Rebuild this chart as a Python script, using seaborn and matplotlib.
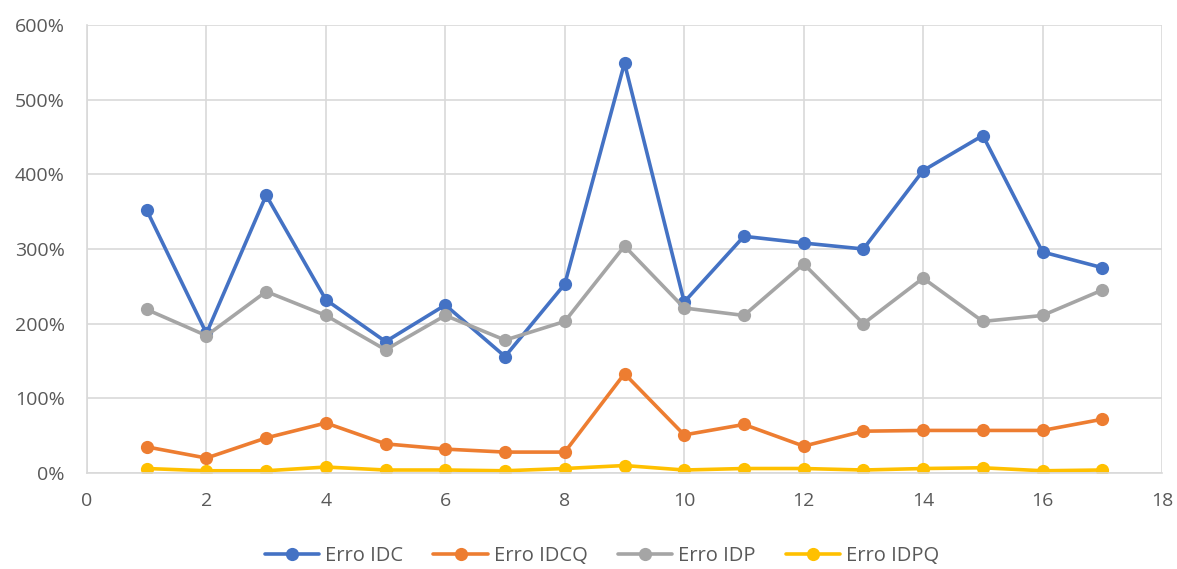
import numpy as np
import pandas as pd
import matplotlib
matplotlib.use("Agg")
import matplotlib.pyplot as plt
import seaborn as sns
from matplotlib.ticker import FuncFormatter, MultipleLocator

x = list(range(1, 18))
erro_idc = [3.52, 1.87, 3.72, 2.32, 1.76, 2.25, 1.56, 2.53, 5.49, 2.29, 3.17, 3.08, 3.00, 4.05, 4.52, 2.96, 2.75]
erro_idcq = [0.35, 0.20, 0.47, 0.67, 0.39, 0.32, 0.28, 0.28, 1.33, 0.51, 0.65, 0.36, 0.56, 0.57, 0.57, 0.57, 0.72]
erro_idp = [2.19, 1.84, 2.43, 2.11, 1.65, 2.11, 1.78, 2.03, 3.04, 2.21, 2.11, 2.80, 2.00, 2.61, 2.03, 2.11, 2.45]
erro_idpq = [0.06, 0.03, 0.03, 0.08, 0.04, 0.04, 0.03, 0.06, 0.10, 0.04, 0.06, 0.06, 0.04, 0.06, 0.07, 0.03, 0.04]
series_names = ["Erro IDC", "Erro IDCQ", "Erro IDP", "Erro IDPQ"]
colors = ["#4472C4", "#ED7D31", "#A5A5A5", "#FFC000"]

df = pd.DataFrame({"x": x, series_names[0]: erro_idc, series_names[1]: erro_idcq,
                   series_names[2]: erro_idp, series_names[3]: erro_idpq})
long = df.melt(id_vars="x", var_name="serie", value_name="valor")

sns.set_style("white")
plt.rcParams['font.family'] = ['Open Sans', 'DejaVu Sans']

W, H = 1177, 569
fig = plt.figure(figsize=(W/100, H/100), dpi=100)
ax = fig.add_axes([87/W, 1 - 473/H, (1162-87)/W, (473-25)/H])

sns.lineplot(data=long, x="x", y="valor", hue="serie", hue_order=series_names,
             palette=dict(zip(series_names, colors)), marker="o", markersize=9.5,
             markeredgewidth=0, linewidth=2.6, ax=ax, legend=True)

ax.set_xlim(0, 18)
ax.set_ylim(0, 6)
ax.xaxis.set_major_locator(MultipleLocator(2))
ax.yaxis.set_major_locator(MultipleLocator(1))
ax.yaxis.set_major_formatter(FuncFormatter(lambda v, p: f"{int(round(v*100))}%"))
ax.grid(True, color="#D9D9D9", linewidth=1.2)
ax.set_axisbelow(True)
for s in ["top", "right"]:
    ax.spines[s].set_visible(False)
for s in ["left", "bottom"]:
    ax.spines[s].set_color("#D9D9D9")
    ax.spines[s].set_linewidth(1.2)
ax.tick_params(axis="y", length=0, labelsize=14, colors="#595959", pad=16)
ax.tick_params(axis="x", length=0, labelsize=14, colors="#595959", pad=14)
ax.set_xlabel("")
ax.set_ylabel("")

handles, labels = ax.get_legend_handles_labels()
ax.legend(handles, labels, loc="center", bbox_to_anchor=(602/W, 1 - 556/H),
          bbox_transform=fig.transFigure, ncol=4, frameon=False, fontsize=14.5,
          labelcolor="#595959", handlelength=2.7, columnspacing=1.5, handletextpad=0.3,
          borderpad=0, borderaxespad=0)

fig.savefig("out.png", dpi=100)
